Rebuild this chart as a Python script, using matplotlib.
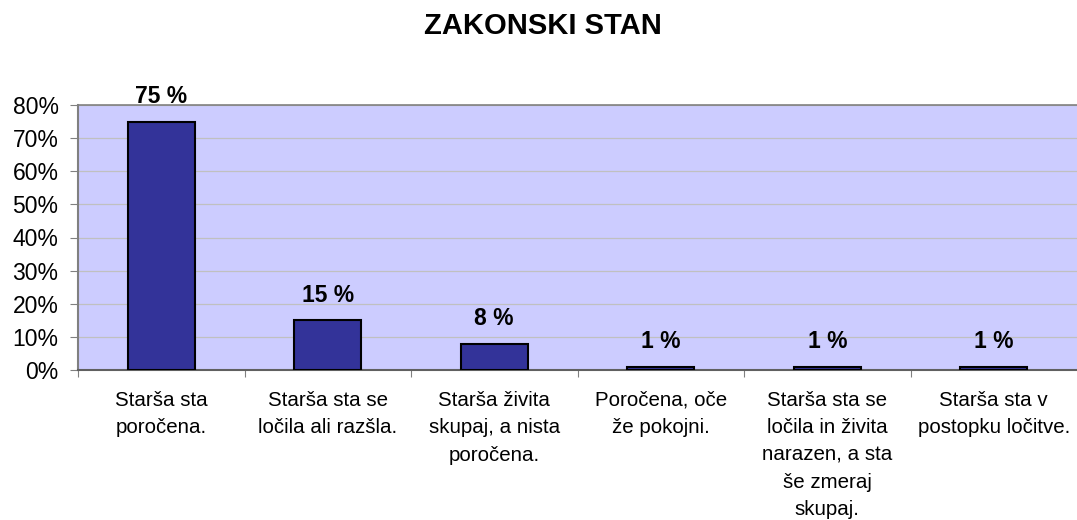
import matplotlib

matplotlib.use("Agg")
import matplotlib.pyplot as plt
from matplotlib.ticker import FuncFormatter, MultipleLocator

plt.rcParams["font.family"] = ["Liberation Sans", "DejaVu Sans"]

BG_COLOR = "#CCCCFF"
BAR_COLOR = "#333399"
GRID_COLOR = "#C0C0C0"
SPINE_COLOR = "#808080"

categories = [
    "Starša sta\nporočena.",
    "Starša sta se\nločila ali razšla.",
    "Starša živita\nskupaj, a nista\nporočena.",
    "Poročena, oče\nže pokojni.",
    "Starša sta se\nločila in živita\nnarazen, a sta\nše zmeraj\nskupaj.",
    "Starša sta v\npostopku ločitve.",
]
values = [75, 15, 8, 1, 1, 1]
valueLabels = ["75 %", "15 %", "8 %", "1 %", "1 %", "1 %"]

fig = plt.figure(figsize=(10.77, 5.2), dpi=100)
ax = fig.add_axes([78 / 1077, 1 - 370 / 520, 1 - 78 / 1077, 265 / 520])
ax.set_facecolor(BG_COLOR)

positions = list(range(len(categories)))
ax.bar(
    positions,
    values,
    width=0.4,
    color=BAR_COLOR,
    edgecolor="black",
    linewidth=1.5,
    zorder=3,
)
for pos, val, lab in zip(positions, values, valueLabels):
    ax.annotate(
        lab,
        (pos, val),
        xytext=(0, 9.5),
        textcoords="offset points",
        ha="center",
        va="bottom",
        fontsize=16.5,
        fontweight="bold",
        zorder=4,
    )

ax.set_xlim(-0.5, len(categories) - 0.5)
ax.set_ylim(0, 80)
ax.yaxis.set_major_locator(MultipleLocator(10))
ax.yaxis.set_major_formatter(FuncFormatter(lambda v, p: f"{v:.0f}%"))
ax.grid(axis="y", color=GRID_COLOR, linewidth=0.9, zorder=0)
ax.set_axisbelow(True)

# category labels with ticks at category boundaries
ax.set_xticks([p + 0.5 for p in positions[:-1]] + [-0.5])
ax.set_xticklabels([])
ax.set_xticks(positions, minor=True)
ax.set_xticklabels(categories, minor=True, fontsize=14.8, linespacing=1.56)
ax.tick_params(axis="x", which="minor", length=0, pad=15)
ax.tick_params(axis="x", which="major", length=5, color=SPINE_COLOR)
ax.tick_params(axis="y", labelsize=16.5, length=6, color=SPINE_COLOR, pad=8)

ax.spines["top"].set_color(SPINE_COLOR)
ax.spines["top"].set_linewidth(1.2)
ax.spines["left"].set_color(SPINE_COLOR)
ax.spines["left"].set_linewidth(1.5)
ax.spines["bottom"].set_color("#606060")
ax.spines["bottom"].set_linewidth(1.5)
ax.spines["right"].set_visible(False)

fig.text(543 / 1077, 1 - 26 / 520, "ZAKONSKI STAN", ha="center", va="center",
         fontsize=21, fontweight="bold")

plt.savefig("out.png", dpi=100)
plt.close(fig)
